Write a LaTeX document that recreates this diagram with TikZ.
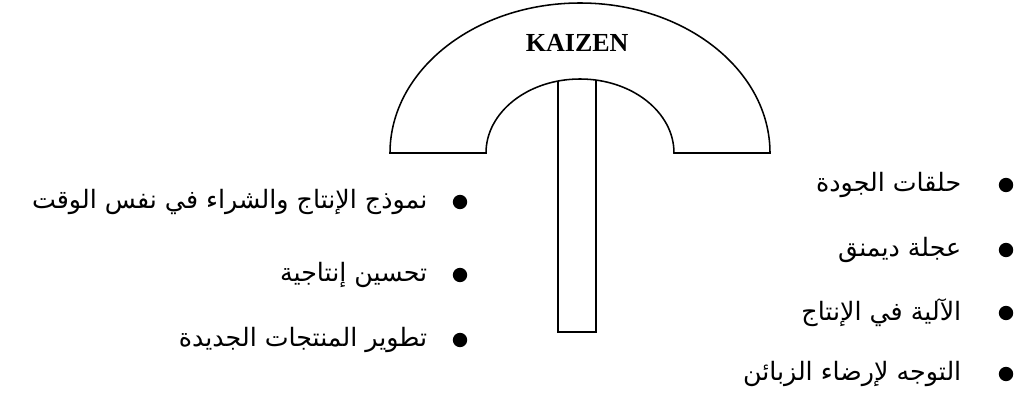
\documentclass[tikz,border=0pt]{standalone}
\usepackage{fontspec}
\setmainfont{Liberation Serif}
\newfontfamily\arabicfont[Script=Arabic]{DejaVu Sans}
\TeXXeTstate=1
\usetikzlibrary{positioning}

\tikzset{
    bulletdot/.style={circle,fill=black,inner sep=0pt,minimum size=0.36cm},
    itemtext/.style={inner sep=0pt,font=\arabicfont\fontsize{18}{21}\selectfont},
}

\begin{document}
\begin{tikzpicture}[x=1cm,y=1cm,line width=1.1pt]
    \useasboundingbox (0,0) rectangle (25.45,10.125);

    \draw (9.75,6.3) arc[start angle=180,end angle=0,x radius=4.75,y radius=3.75]
        -- (16.85,6.3) arc[start angle=0,end angle=180,x radius=2.35,y radius=1.85]
        -- cycle;
    \node[font=\bfseries\fontsize{18.5}{20}\selectfont] (kaizen) at (14.43,9.05)
        {KAIZEN};

    \draw (13.95,8.1) -- (13.95,1.825) -- (14.9,1.825) -- (14.9,8.12);

    \node[bulletdot] (lb1) at (11.5,5.075) {};
    \node[bulletdot] (lb2) at (11.5,3.25) {};
    \node[bulletdot] (lb3) at (11.5,1.625) {};
    \node[itemtext,left=0.6cm of lb1] (lt1)
        {\beginR نموذج الإنتاج والشراء في نفس الوقت\endR};
    \node[itemtext,left=0.6cm of lb2] (lt2)
        {\beginR تحسين إنتاجية\endR};
    \node[itemtext,left=0.6cm of lb3] (lt3)
        {\beginR تطوير المنتجات الجديدة\endR};

    \node[bulletdot] (rb1) at (25.15,5.5) {};
    \node[bulletdot] (rb2) at (25.15,3.875) {};
    \node[bulletdot] (rb3) at (25.15,2.3) {};
    \node[bulletdot] (rb4) at (25.15,0.775) {};
    \node[itemtext,left=0.9cm of rb1] (rt1)
        {\beginR حلقات الجودة\endR};
    \node[itemtext,left=0.9cm of rb2] (rt2)
        {\beginR عجلة ديمنق\endR};
    \node[itemtext,left=0.9cm of rb3] (rt3)
        {\beginR الآلية في الإنتاج\endR};
    \node[itemtext,left=0.9cm of rb4] (rt4)
        {\beginR التوجه لإرضاء الزبائن\endR};
\end{tikzpicture}
\end{document}
